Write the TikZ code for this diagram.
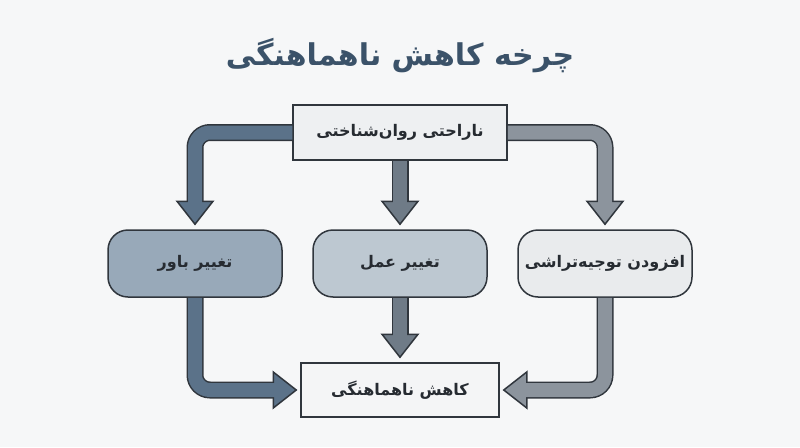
\documentclass[tikz,border=0pt]{standalone}
\usepackage{fontspec}
\newfontfamily\arabicfont[Script=Arabic]{DejaVu Sans}
\TeXXeTstate=1

\definecolor{paper}{HTML}{F6F7F8}
\definecolor{titleink}{HTML}{3B5269}
\definecolor{ink}{HTML}{262B31}
\definecolor{edge}{HTML}{30363D}
\definecolor{topfill}{HTML}{EEF0F2}
\definecolor{lowfill}{HTML}{F4F5F6}
\definecolor{beliefill}{HTML}{98A9B9}
\definecolor{actfill}{HTML}{BDC8D1}
\definecolor{justfill}{HTML}{E9EBED}
\definecolor{arrowL}{HTML}{5B7289}
\definecolor{arrowM}{HTML}{6F7B87}
\definecolor{arrowR}{HTML}{8C949D}

\tikzset{
  box/.style={draw=edge, line width=1.5pt, fill=#1, text=ink, inner sep=0pt,
    font=\arabicfont\bfseries\fontsize{16}{20}\selectfont},
  squarebox/.style={box=#1, minimum height=55pt},
  roundbox/.style={box=#1, rounded corners=20pt, minimum width=174pt, minimum height=67pt},
  shaftout/.style={draw=edge, line width=17pt, rounded corners=15pt, shorten >=23pt},
  shaftin/.style={draw=#1, line width=14pt, rounded corners=15pt, shorten >=21.5pt},
  head/.style={draw=edge, line width=1.5pt, fill=#1, line join=miter}
}

\begin{document}
\begin{tikzpicture}[x=1pt, y=-1pt]
  \fill[paper] (0,0) rectangle (800,447);
  \useasboundingbox (0,0) rectangle (800,447);

  \node[text=titleink, font=\arabicfont\bfseries\fontsize{30}{36}\selectfont] (title) at (400,56) {\beginR چرخه کاهش ناهماهنگی\endR};

  \node[squarebox=topfill, minimum width=214pt] (top) at (400,132.5) {\beginR ناراحتی روان‌شناختی\endR};
  \node[roundbox=beliefill] (belief) at (195,263.5) {\beginR تغییر باور\endR};
  \node[roundbox=actfill] (action) at (400,263.5) {\beginR تغییر عمل\endR};
  \node[roundbox=justfill] (justify) at (605,263.5) {\beginR افزودن توجیه‌تراشی\endR};
  \node[squarebox=lowfill, minimum width=198pt, minimum height=54pt] (low) at (400,390) {\beginR کاهش ناهماهنگی\endR};

  % arrow tips
  \coordinate (tipbelief) at ([yshift=5pt]belief.north);
  \coordinate (tipaction) at ([yshift=5pt]action.north);
  \coordinate (tipjustify) at ([yshift=5pt]justify.north);
  \coordinate (tiplowL) at ([xshift=-4pt]low.west);
  \coordinate (tiplowM) at ([yshift=5pt]low.north);
  \coordinate (tiplowR) at ([xshift=4pt]low.east);

  % from the top box
  \draw[shaftout] (top.west) -| (tipbelief);
  \draw[head=arrowL] (tipbelief) -- ++(-18,-23) -- ++(36,0) -- cycle;
  \draw[shaftin=arrowL] (top.west) -| (tipbelief);

  \draw[shaftout] (top.south) -- (tipaction);
  \draw[head=arrowM] (tipaction) -- ++(-18,-23) -- ++(36,0) -- cycle;
  \draw[shaftin=arrowM] (top.south) -- (tipaction);

  \draw[shaftout] (top.east) -| (tipjustify);
  \draw[head=arrowR] (tipjustify) -- ++(-18,-23) -- ++(36,0) -- cycle;
  \draw[shaftin=arrowR] (top.east) -| (tipjustify);

  % into the bottom box
  \draw[shaftout] (belief.south) |- (tiplowL);
  \draw[head=arrowL] (tiplowL) -- ++(-23,-18) -- ++(0,36) -- cycle;
  \draw[shaftin=arrowL] (belief.south) |- (tiplowL);

  \draw[shaftout] (action.south) -- (tiplowM);
  \draw[head=arrowM] (tiplowM) -- ++(-18,-23) -- ++(36,0) -- cycle;
  \draw[shaftin=arrowM] (action.south) -- (tiplowM);

  \draw[shaftout] (justify.south) |- (tiplowR);
  \draw[head=arrowR] (tiplowR) -- ++(23,-18) -- ++(0,36) -- cycle;
  \draw[shaftin=arrowR] (justify.south) |- (tiplowR);
\end{tikzpicture}
\end{document}
